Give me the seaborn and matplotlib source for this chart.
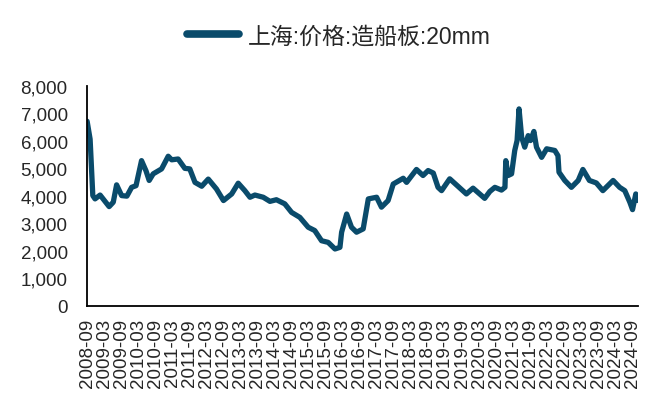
import matplotlib
matplotlib.use("Agg")
import matplotlib.pyplot as plt
import matplotlib.dates as mdates
from matplotlib.ticker import FuncFormatter
import seaborn as sns
import pandas as pd

# 上海:价格:造船板:20mm (元/吨)
dates = [
    "2008-09-01", "2008-10-03", "2008-11-01", "2008-11-25", "2009-01-18", "2009-04-25",
    "2009-06-08", "2009-07-14", "2009-09-06", "2009-11-01", "2009-12-22", "2010-02-07",
    "2010-04-07", "2010-05-25", "2010-06-28", "2010-08-10", "2010-11-08", "2011-01-18",
    "2011-02-24", "2011-05-04", "2011-07-15", "2011-09-06", "2011-11-01", "2012-01-12",
    "2012-03-22", "2012-06-18", "2012-09-01", "2012-11-28", "2013-02-06", "2013-04-18",
    "2013-06-12", "2013-08-04", "2013-11-01", "2014-01-12", "2014-03-22", "2014-06-20",
    "2014-09-01", "2014-11-28", "2015-02-26", "2015-05-07", "2015-07-19", "2015-09-28",
    "2015-12-10", "2016-02-01", "2016-02-19", "2016-04-13", "2016-06-04", "2016-07-28",
    "2016-10-07", "2016-12-01", "2017-02-28", "2017-04-21", "2017-07-01", "2017-08-25",
    "2017-12-10", "2018-01-15", "2018-05-01", "2018-07-10", "2018-09-03", "2018-10-28",
    "2018-12-18", "2019-01-25", "2019-04-22", "2019-07-19", "2019-10-18", "2019-12-28",
    "2020-05-01", "2020-06-25", "2020-08-18", "2020-10-28", "2020-12-04", "2020-12-13",
    "2021-01-07", "2021-02-13", "2021-03-19", "2021-04-13", "2021-05-04", "2021-06-01",
    "2021-07-04", "2021-08-10", "2021-09-04", "2021-10-10", "2021-11-07", "2022-01-01",
    "2022-02-24", "2022-05-22", "2022-06-25", "2022-07-06", "2022-09-06", "2022-11-16",
    "2023-01-28", "2023-03-19", "2023-05-28", "2023-08-10", "2023-10-19", "2024-02-06",
    "2024-04-16", "2024-06-10", "2024-08-03", "2024-09-01", "2024-10-06", "2024-11-01",
]
prices = [
    6700, 6050, 4000, 3880, 4020, 3600,
    3760, 4390, 4000, 3980, 4300, 4360,
    5270, 4900, 4550, 4790, 4970, 5430,
    5300, 5330, 4990, 4970, 4480, 4340,
    4600, 4240, 3820, 4060, 4450, 4180,
    3940, 4020, 3940, 3790, 3850, 3700,
    3390, 3210, 2850, 2730, 2360, 2300,
    2060, 2120, 2670, 3330, 2850, 2670,
    2790, 3880, 3940, 3580, 3820, 4420,
    4630, 4480, 4950, 4730, 4910, 4820,
    4300, 4180, 4610, 4340, 4060, 4270,
    3900, 4150, 4300, 4200, 4300, 5270,
    4730, 4790, 5640, 6000, 7150, 6120,
    5760, 6180, 6000, 6330, 5760, 5390,
    5700, 5640, 5450, 4850, 4550, 4300,
    4550, 4950, 4550, 4460, 4180, 4550,
    4300, 4180, 3760, 3490, 4060, 3820,
]
series_name = "上海:价格:造船板:20mm"
tick_start, tick_end = "2008-09-01", "2024-09-01"

df = pd.DataFrame({"date": pd.to_datetime(dates), "price": prices})

sns.set_style("white")
plt.rcParams["font.family"] = ["Liberation Sans", "Noto Sans CJK SC", "DejaVu Sans"]

fig = plt.figure(figsize=(6.6, 4.1), dpi=100)
ax = fig.add_axes([0.132, 0.252, 0.835, 0.537])

line_color = "#0A4B6B"
sns.lineplot(data=df, x="date", y="price", ax=ax, color=line_color,
             linewidth=3.8, label=series_name)

ax.set_ylim(0, 8000)
ax.set_yticks(range(0, 8001, 1000))
ax.yaxis.set_major_formatter(FuncFormatter(lambda v, p: f"{int(v):,}"))
ax.set_xlim(df["date"].iloc[0], df["date"].iloc[-1])
ax.set_xticks(pd.date_range(tick_start, tick_end, freq="6MS"))
ax.xaxis.set_major_formatter(mdates.DateFormatter("%Y-%m"))
ax.set_xlabel("")
ax.set_ylabel("")

for side in ["top", "right"]:
    ax.spines[side].set_visible(False)
for side in ["left", "bottom"]:
    ax.spines[side].set_color("black")
    ax.spines[side].set_linewidth(1.3)

ax.tick_params(axis="x", direction="in", length=4, width=1.2, color="black",
               labelsize=13.5, rotation=90, pad=9)
ax.tick_params(axis="y", direction="in", length=4, width=1.2, color="black",
               labelsize=13.5, pad=14)

leg = ax.legend(loc="center", bbox_to_anchor=(0.513, 0.91), bbox_transform=fig.transFigure,
                frameon=False, fontsize=16.5, handlelength=2.3, handletextpad=0.35)
for h in leg.get_lines():
    h.set_linewidth(5.5)

fig.savefig("out.png", dpi=100)
